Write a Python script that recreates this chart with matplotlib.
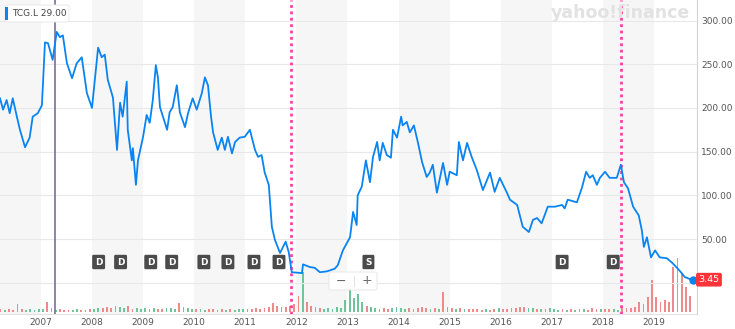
import numpy as np
import matplotlib.pyplot as plt
from matplotlib.patches import FancyBboxPatch, Rectangle

# 行情数据 (日期用小数年表示)
ticker_label = "TCG.L 29.00"
last_price = 3.45

price_date = [
    2006.20, 2006.26, 2006.33, 2006.39, 2006.45, 2006.53, 2006.59, 2006.69, 2006.78, 2006.84,
    2006.94, 2007.02, 2007.08, 2007.14, 2007.23, 2007.31, 2007.37, 2007.43, 2007.51, 2007.61,
    2007.70, 2007.80, 2007.90, 2008.00, 2008.06, 2008.12, 2008.19, 2008.25, 2008.31, 2008.41,
    2008.49, 2008.55, 2008.60, 2008.68, 2008.70, 2008.78, 2008.80, 2008.86, 2008.90, 2009.00,
    2009.07, 2009.13, 2009.19, 2009.25, 2009.29, 2009.33, 2009.39, 2009.47, 2009.52, 2009.58,
    2009.66, 2009.72, 2009.82, 2009.88, 2009.97, 2010.05, 2010.15, 2010.21, 2010.27, 2010.33,
    2010.37, 2010.46, 2010.54, 2010.60, 2010.66, 2010.74, 2010.80, 2010.89, 2010.99, 2011.09,
    2011.19, 2011.25, 2011.32, 2011.38, 2011.46, 2011.52, 2011.58, 2011.68, 2011.79, 2011.85,
    2011.91, 2012.11, 2012.13, 2012.26, 2012.36, 2012.46, 2012.60, 2012.75, 2012.81, 2012.91,
    2013.05, 2013.11, 2013.18, 2013.20, 2013.28, 2013.36, 2013.44, 2013.50, 2013.58, 2013.63,
    2013.69, 2013.77, 2013.85, 2013.89, 2013.97, 2014.05, 2014.08, 2014.16, 2014.22, 2014.30,
    2014.38, 2014.46, 2014.55, 2014.61, 2014.67, 2014.75, 2014.87, 2014.95, 2015.00, 2015.14,
    2015.18, 2015.26, 2015.34, 2015.43, 2015.53, 2015.65, 2015.79, 2015.88, 2015.98, 2016.12,
    2016.18, 2016.32, 2016.43, 2016.55, 2016.63, 2016.71, 2016.80, 2016.92, 2017.06, 2017.20,
    2017.25, 2017.31, 2017.49, 2017.59, 2017.67, 2017.74, 2017.80, 2017.88, 2017.94, 2018.04,
    2018.13, 2018.27, 2018.35, 2018.41, 2018.49, 2018.59, 2018.70, 2018.76, 2018.80, 2018.86,
    2018.94, 2019.02, 2019.11, 2019.25, 2019.35, 2019.45, 2019.54, 2019.60, 2019.70, 2019.76,
]
price_close = [
    211, 198, 209, 194, 211, 190, 175, 155, 166, 190,
    194, 203, 275, 274, 255, 287, 281, 283, 251, 234,
    251, 258, 217, 200, 235, 269, 258, 261, 232, 212,
    152, 206, 190, 230, 175, 140, 154, 112, 140, 167,
    192, 183, 209, 249, 235, 201, 190, 175, 195, 201,
    226, 195, 178, 194, 211, 198, 217, 235, 226, 190,
    172, 152, 166, 152, 167, 148, 161, 166, 167, 175,
    152, 144, 146, 126, 112, 64, 49, 34, 47, 35,
    12, 11, 21, 18, 17, 12, 13, 16, 20, 37,
    52, 81, 66, 100, 110, 140, 115, 144, 161, 140,
    160, 146, 143, 175, 166, 190, 180, 184, 172, 180,
    160, 138, 121, 126, 135, 103, 137, 112, 127, 123,
    161, 140, 160, 144, 129, 106, 126, 104, 120, 103,
    95, 89, 64, 58, 72, 74, 68, 87, 87, 89,
    85, 95, 92, 109, 127, 120, 123, 112, 120, 127,
    120, 120, 135, 115, 108, 87, 77, 60, 41, 52,
    29, 37, 29, 28, 23, 17, 11, 6.5, 4.2, last_price,
]

# 月成交量 (2006年3月起)
volume_2006 = [3, 2, 3, 2, 8, 3, 2, 3, 2, 3]
volume_2007 = [3, 10, 4, 2, 3, 2, 2, 2, 3, 2, 2, 3]
volume_2008 = [3, 4, 4, 5, 4, 6, 5, 4, 6, 3, 4, 3]
volume_2009 = [4, 3, 4, 3, 3, 4, 4, 3, 9, 5, 4, 3]
volume_2010 = [3, 3, 2, 3, 3, 2, 3, 2, 3, 2, 3, 3]
volume_2011 = [3, 3, 4, 3, 4, 5, 9, 6, 5, 5, 6, 8]
volume_2012 = [16, 40, 10, 6, 5, 4, 3, 4, 3, 5, 4, 12]
volume_2013 = [22, 14, 18, 10, 6, 5, 4, 3, 4, 3, 4, 5]
volume_2014 = [4, 3, 4, 3, 4, 5, 4, 3, 4, 3, 20, 5]
volume_2015 = [4, 3, 4, 3, 3, 3, 3, 2, 3, 2, 3, 4]
volume_2016 = [3, 3, 4, 4, 5, 5, 4, 4, 3, 3, 3, 4]
volume_2017 = [3, 2, 3, 2, 3, 2, 3, 3, 2, 4, 3, 3]
volume_2018 = [3, 3, 3, 2, 6, 4, 4, 5, 10, 8, 15, 32]
volume_2019 = [15, 10, 12, 10, 45, 54, 39, 25, 16]
volume = (volume_2006 + volume_2007 + volume_2008 + volume_2009 + volume_2010
          + volume_2011 + volume_2012 + volume_2013 + volume_2014 + volume_2015
          + volume_2016 + volume_2017 + volume_2018 + volume_2019)

dividend_dates = [2008.13, 2008.56, 2009.15, 2009.56, 2010.19, 2010.66,
                  2011.17, 2011.66, 2017.20, 2018.20]
split_dates = [2013.41]
event_dates = [2011.90, 2018.35]
cursor_date = 2007.27

price_ticks = [50, 100, 150, 200, 250, 300]
years = list(range(2007, 2020))

BLUE = "#0a84f0"
W, H = 735, 329

fig = plt.figure(figsize=(W / 100, H / 100), dpi=100)
rect = [0, 15 / H, 697 / W, 314 / H]

# 底层: 年份色带 + 成交量
ax_vol = fig.add_axes(rect)
ax_vol.set_xlim(2006.20, 2019.84)
ax_vol.set_ylim(-2, 312)
for y in range(2006, 2020, 2):
    ax_vol.axvspan(y, y + 1, color="#f6f6f6", lw=0, zorder=0)

vol_x = 2006 + (2 + np.arange(len(volume)) + 0.5) / 12
p0 = np.interp(vol_x - 0.5 / 12, price_date, price_close)
p1 = np.interp(vol_x + 0.5 / 12, price_date, price_close)
vol_colors = np.where(p1 >= p0, "#6fc49b", "#ee8a8a")
ax_vol.bar(vol_x, volume, width=0.035, color=vol_colors, lw=0, zorder=1)

ax_vol.set_yticks([])
ax_vol.set_xticks(years)
ax_vol.set_xticklabels([str(y) for y in years], fontsize=6.5, color="#555555")
ax_vol.tick_params(axis="x", length=0, pad=3)
for s in ["top", "left", "right"]:
    ax_vol.spines[s].set_visible(False)
ax_vol.spines["bottom"].set_color("#e2e2e2")
ax_vol.spines["bottom"].set_linewidth(0.8)

# 上层: 价格
ax = ax_vol.twinx()
ax.set_ylim(-35.8, 323.5)
ax.patch.set_visible(False)
for t in [0] + price_ticks:
    ax.axhline(t, color="#e8e8e8", lw=0.8, zorder=1)
ax.set_yticks(price_ticks)
ax.set_yticklabels(["%.2f" % t for t in price_ticks], fontsize=6.5, color="#555555")
ax.tick_params(axis="y", length=0, pad=3)
for s in ["top", "left", "bottom"]:
    ax.spines[s].set_visible(False)
ax.spines["right"].set_color("#d4d4d4")
ax.spines["right"].set_linewidth(0.8)

ax.axvline(cursor_date, color="#7b6d9a", lw=1.2, zorder=2)
for d in event_dates:
    ax.axvline(d, color="#ff3ea5", lw=2, ls=(0, (1, 1.3)), zorder=2)

ax.plot(price_date, price_close, color=BLUE, lw=1.3, zorder=4)
ax.plot(price_date[-1], price_close[-1], "o", color=BLUE, ms=5, zorder=5)

# 分红 / 拆股标记
for d in dividend_dates:
    ax.text(d, 23.7, "D", ha="center", va="center", fontsize=6.5, color="white",
            fontweight="bold", zorder=6,
            bbox=dict(boxstyle="round,pad=0.3,rounding_size=0.15", fc="#4b4b4b", ec="none"))
for d in split_dates:
    ax.text(d, 23.7, "S", ha="center", va="center", fontsize=6.5, color="white",
            fontweight="bold", zorder=6,
            bbox=dict(boxstyle="round,pad=0.3,rounding_size=0.15", fc="#4b4b4b", ec="none"))

# 最新价标签
ax.text(1.002, last_price, "%.2f" % last_price, transform=ax.get_yaxis_transform(),
        ha="left", va="center", fontsize=6.8, color="white", zorder=6, clip_on=False,
        bbox=dict(boxstyle="round,pad=0.25,rounding_size=0.2", fc="#ff333a", ec="none"))

# 缩放按钮
fig.patches.append(FancyBboxPatch((329 / W, 1 - 290 / H), 48 / W, 18 / H,
                                  boxstyle="round,pad=0,rounding_size=0.004",
                                  transform=fig.transFigure, fc="white", ec="#e4e4e4", lw=0.6, zorder=7))
fig.text(341 / W, 1 - 281 / H, "\u2212", ha="center", va="center", fontsize=9, color="#666666", zorder=8)
fig.text(367 / W, 1 - 281 / H, "+", ha="center", va="center", fontsize=9, color="#666666", zorder=8)
fig.lines.append(plt.Line2D([354 / W, 354 / W], [1 - 286 / H, 1 - 276 / H],
                            transform=fig.transFigure, color="#dddddd", lw=0.6, zorder=8))

# 左上角代码标签
fig.patches.append(FancyBboxPatch((5 / W, 1 - 22 / H), 64 / W, 17 / H,
                                  boxstyle="round,pad=0,rounding_size=0.004",
                                  transform=fig.transFigure, fc="white", ec="#e6e6e6", lw=0.6, zorder=7))
fig.patches.append(Rectangle((5 / W, 1 - 20 / H), 2.5 / W, 13 / H,
                             transform=fig.transFigure, fc=BLUE, ec="none", zorder=8))
fig.text(12 / W, 1 - 13.5 / H, ticker_label, ha="left", va="center", fontsize=6.5,
         color="#444444", zorder=8)

# 水印
fig.text(620 / W, 1 - 13 / H, "yahoo!finance", ha="center", va="center", fontsize=12.5,
         fontweight="bold", color="#e2e2e2", zorder=3)

fig.savefig("out.png", dpi=100)
